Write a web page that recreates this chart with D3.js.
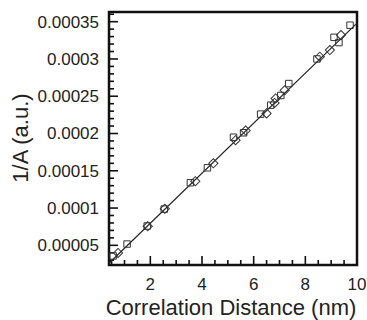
<!DOCTYPE html>
<html>
<head>
<meta charset="utf-8">
<script src="https://cdn.jsdelivr.net/npm/d3@7"></script>
<style>
  body { margin: 0; background: #fff; }
  svg text { font-family: "Liberation Sans", Arial, Helvetica, sans-serif; fill: #222; }
</style>
</head>
<body>
<div id="chart"></div>
<script>
// correlation distance (nm) vs 1/A, two marker sets
const squareX = [0.56, 1.10, 1.88, 2.54, 3.55, 4.21, 5.22, 5.61, 6.27, 6.66, 7.05, 7.36, 8.45, 9.11, 9.30, 9.73];
const squareY = [3.57e-5, 5.17e-5, 7.59e-5, 9.86e-5, 1.34e-4, 1.54e-4, 1.95e-4, 2.01e-4, 2.26e-4, 2.38e-4, 2.51e-4, 2.67e-4, 3.00e-4, 3.29e-4, 3.22e-4, 3.453e-4];
const diamondX = [0.75, 1.90, 2.56, 3.74, 4.44, 5.30, 5.69, 6.50, 6.81, 6.85, 7.20, 8.56, 8.95, 9.38];
const diamondY = [3.97e-5, 7.55e-5, 9.9e-5, 1.36e-4, 1.60e-4, 1.91e-4, 2.04e-4, 2.27e-4, 2.41e-4, 2.47e-4, 2.58e-4, 3.03e-4, 3.12e-4, 3.32e-4];
const fitX = [0.4, 10];
const fitY = [2.6e-5, 3.48e-4];
const xTicks = [2, 4, 6, 8, 10];
const yTicks = [0.00005, 0.0001, 0.00015, 0.0002, 0.00025, 0.0003, 0.00035];
const yTickLabels = ['0.00005', '0.0001', '0.00015', '0.0002', '0.00025', '0.0003', '0.00035'];

const width = 367, height = 320;
const m = { left: 109, right: 10, top: 12, bottom: 55 };

const svg = d3.select('#chart').append('svg')
  .attr('width', width).attr('height', height);

const x = d3.scaleLinear().domain([0.4, 10]).range([m.left, width - m.right]);
const y = d3.scaleLinear().domain([2.36e-5, 3.63e-4]).range([height - m.bottom, m.top]);

const x0 = m.left, x1 = width - m.right, y0 = height - m.bottom, y1 = m.top;

// minor + major ticks, pointing inward
const xMinor = d3.range(0.5, 10.01, 0.5);
svg.append('g').selectAll('line').data(xMinor).join('line')
  .attr('x1', d => x(d)).attr('x2', d => x(d))
  .attr('y1', y0).attr('y2', d => y0 - (xTicks.includes(d) ? 9 : 5))
  .attr('stroke', '#111').attr('stroke-width', 1.6);

const yMinor = d3.range(3e-5, 3.605e-4, 1e-5);
svg.append('g').selectAll('line').data(yMinor).join('line')
  .attr('y1', d => y(d)).attr('y2', d => y(d))
  .attr('x1', x0).attr('x2', (d, i) => x0 + ((i + 3) % 5 === 0 ? 9 : 5))
  .attr('stroke', '#111').attr('stroke-width', 1.6);

// frame
svg.append('rect')
  .attr('x', x0).attr('y', y1).attr('width', x1 - x0).attr('height', y0 - y1)
  .attr('fill', 'none').attr('stroke', '#111').attr('stroke-width', 2.5);

// tick labels
svg.append('g').selectAll('text').data(xTicks).join('text')
  .attr('x', d => x(d)).attr('y', y0 + 25)
  .attr('text-anchor', 'middle').attr('font-size', 17).text(d => d);

svg.append('g').selectAll('text').data(yTicks).join('text')
  .attr('x', x0 - 10).attr('y', d => y(d)).attr('dy', '0.35em')
  .attr('text-anchor', 'end').attr('font-size', 17).text((d, i) => yTickLabels[i]);

// axis titles
svg.append('text').attr('x', 231).attr('y', 315)
  .attr('text-anchor', 'middle').attr('font-size', 22).text('Correlation Distance (nm)');
svg.append('text').attr('transform', 'translate(28,138) rotate(-90)')
  .attr('text-anchor', 'middle').attr('font-size', 22).text('1/A (a.u.)');

// fit line
svg.append('line')
  .attr('x1', x(fitX[0])).attr('y1', y(fitY[0]))
  .attr('x2', x(fitX[1])).attr('y2', y(fitY[1]))
  .attr('stroke', '#222').attr('stroke-width', 1.2);

// markers
const sq = d3.symbol().type(d3.symbolSquare).size(42);
svg.append('g').selectAll('path').data(squareX).join('path')
  .attr('d', sq)
  .attr('transform', (d, i) => `translate(${x(d)},${y(squareY[i])})`)
  .attr('fill', 'none').attr('stroke', '#333').attr('stroke-width', 1);

const dm = d3.symbol().type(d3.symbolSquare).size(42);
svg.append('g').selectAll('path').data(diamondX).join('path')
  .attr('d', dm)
  .attr('transform', (d, i) => `translate(${x(d)},${y(diamondY[i])}) rotate(45)`)
  .attr('fill', 'none').attr('stroke', '#333').attr('stroke-width', 1);
</script>
</body>
</html>
